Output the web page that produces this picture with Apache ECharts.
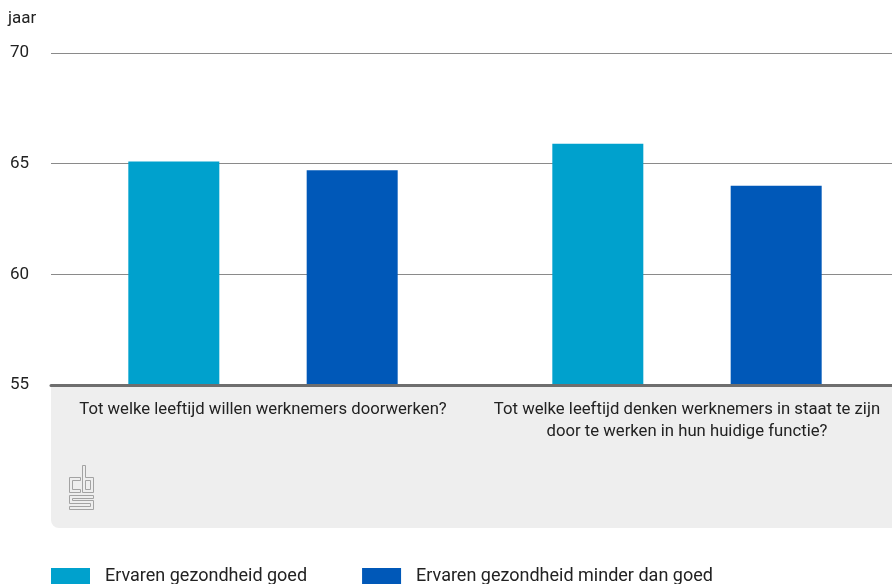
<!DOCTYPE html>
<html>
<head>
<meta charset="utf-8">
<script src="https://cdn.jsdelivr.net/npm/echarts@6/dist/echarts.min.js"></script>
<style>
  html, body { margin: 0; padding: 0; background: #fff; }
  #chart { width: 892px; height: 584px; }
</style>
</head>
<body>
<div id="chart"></div>
<script>
// Questions on the horizontal axis
const categories = [
  'Tot welke leeftijd willen werknemers doorwerken?',
  'Tot welke leeftijd denken werknemers in staat te zijn\ndoor te werken in hun huidige functie?'
];
// Age (years) per health group
const seriesNames = ['Ervaren gezondheid goed', 'Ervaren gezondheid minder dan goed'];
const goodHealth = [65.1, 65.9];
const lessGoodHealth = [64.7, 64.0];
const yTicks = [55, 60, 65, 70];

const FONT = 'Roboto, "Open Sans", sans-serif';
const chart = echarts.init(document.getElementById('chart'), null, { renderer: 'canvas' });

const logoStroke = { stroke: '#a3a3a3', lineWidth: 1, fill: null };

const option = {
  animation: false,
  textStyle: { fontFamily: FONT },
  // plot area runs slightly past the right edge of the canvas
  grid: { left: 51, width: 848, top: 53, height: 332, containLabel: false, outerBoundsMode: 'none' },
  legend: {
    left: 51,
    top: 567,
    padding: 0,
    itemWidth: 39,
    itemHeight: 16,
    itemGap: 55,
    icon: 'rect',
    textStyle: { fontSize: 18, color: '#222', fontFamily: FONT, padding: [0, 0, 0, 10] },
    data: seriesNames
  },
  xAxis: {
    type: 'category',
    data: categories,
    axisLine: { show: true, lineStyle: { color: '#6e6e6e', width: 3 } },
    axisTick: { show: false },
    axisLabel: {
      margin: 14,
      fontSize: 16.7,
      lineHeight: 22,
      color: '#222',
      fontFamily: FONT,
      interval: 0
    },
    z: 5
  },
  yAxis: {
    type: 'value',
    min: yTicks[0],
    max: yTicks[yTicks.length - 1],
    interval: 5,
    name: 'jaar',
    nameLocation: 'end',
    nameGap: 26,
    nameTextStyle: { align: 'left', fontSize: 17, color: '#222', padding: [0, 0, 0, -43] },
    axisLine: { show: false },
    axisTick: { show: false },
    axisLabel: { align: 'left', margin: 41, fontSize: 17, color: '#222', fontFamily: FONT },
    splitLine: { lineStyle: { color: '#8a8a8a', width: 1 } }
  },
  graphic: [
    {
      type: 'rect',
      z: -10,
      silent: true,
      shape: { x: 51, y: 385, width: 860, height: 143, r: [0, 0, 0, 8] },
      style: { fill: '#eeeeee' }
    },
    {
      // statistics agency logo mark, drawn as outlined letters
      type: 'group',
      x: 69.5,
      y: 465.5,
      z: 10,
      silent: true,
      children: [
        { type: 'polygon', shape: { points: [[11,12],[0,12],[0,27],[11,27],[11,24],[3,24],[3,15],[11,15]] }, style: logoStroke },
        { type: 'polygon', shape: { points: [[13,0],[13,27],[24,27],[24,12],[16,12],[16,0]] }, style: logoStroke },
        { type: 'rect', shape: { x: 16, y: 15, width: 5, height: 9 }, style: logoStroke },
        { type: 'polygon', shape: { points: [[24,30],[0,30],[0,38],[21,38],[21,41],[0,41],[0,44],[24,44],[24,35],[3,35],[3,33],[24,33]] }, style: logoStroke }
      ]
    }
  ],
  series: [
    {
      name: seriesNames[0],
      type: 'bar',
      data: goodHealth,
      barWidth: 91,
      barGap: '96%',
      itemStyle: { color: '#00a1cd' }
    },
    {
      name: seriesNames[1],
      type: 'bar',
      data: lessGoodHealth,
      barWidth: 91,
      itemStyle: { color: '#0058b8' }
    }
  ]
};
chart.setOption(option);
</script>
</body>
</html>
